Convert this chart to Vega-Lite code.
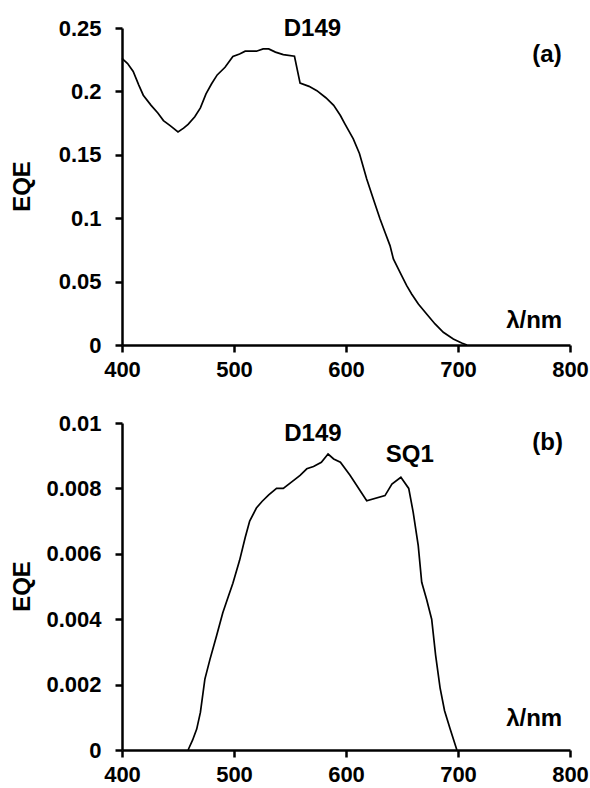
{
  "$schema": "https://vega.github.io/schema/vega-lite/v6.json",
  "padding": {"left": 10, "top": 17, "right": 5, "bottom": 0},
  "background": "white",
  "config": {
    "view": {"stroke": null},
    "font": "Liberation Sans",
    "concat": {"spacing": 32},
    "axis": {
      "domainColor": "black", "domainWidth": 2.5, "tickColor": "black", "tickWidth": 2.5, "tickSize": 7,
      "labelFont": "Liberation Sans", "labelFontWeight": "bold", "labelFontSize": 22, "labelColor": "black",
      "grid": false, "titleFont": "Liberation Sans", "titleFontWeight": "bold", "titleFontSize": 24, "titleColor": "black",
      "labelOverlap": false, "labelFlush": false
    },
    "axisX": {"labelPadding": 7},
    "axisY": {"labelPadding": 14}
  },
  "datasets": {
    "a": [
      {"w": 400, "e": 0.226}, {"w": 405, "e": 0.222}, {"w": 410, "e": 0.2157}, {"w": 415, "e": 0.205},
      {"w": 419, "e": 0.197}, {"w": 426, "e": 0.189}, {"w": 432, "e": 0.183}, {"w": 437, "e": 0.177},
      {"w": 443, "e": 0.173}, {"w": 450, "e": 0.168}, {"w": 455, "e": 0.171}, {"w": 459, "e": 0.174},
      {"w": 465, "e": 0.18}, {"w": 470, "e": 0.187}, {"w": 475, "e": 0.198}, {"w": 480, "e": 0.206},
      {"w": 485, "e": 0.213}, {"w": 492, "e": 0.219}, {"w": 499, "e": 0.2275}, {"w": 505, "e": 0.2295},
      {"w": 510, "e": 0.2317}, {"w": 520, "e": 0.2317}, {"w": 526, "e": 0.2335}, {"w": 531, "e": 0.2335},
      {"w": 537, "e": 0.231}, {"w": 544, "e": 0.229}, {"w": 554, "e": 0.2277}, {"w": 559, "e": 0.2065},
      {"w": 567, "e": 0.204}, {"w": 574, "e": 0.2006}, {"w": 582, "e": 0.195}, {"w": 589, "e": 0.189},
      {"w": 595, "e": 0.181}, {"w": 599, "e": 0.1744}, {"w": 606.5, "e": 0.1625}, {"w": 612, "e": 0.151},
      {"w": 618.5, "e": 0.131}, {"w": 624.4, "e": 0.1152}, {"w": 630.4, "e": 0.0994}, {"w": 634.8, "e": 0.0889},
      {"w": 639.3, "e": 0.0784}, {"w": 642.3, "e": 0.0679}, {"w": 646.7, "e": 0.06}, {"w": 649.7, "e": 0.0547},
      {"w": 654.2, "e": 0.0468}, {"w": 658.6, "e": 0.0402}, {"w": 664.6, "e": 0.0324}, {"w": 672, "e": 0.0245},
      {"w": 679.5, "e": 0.0166}, {"w": 686.9, "e": 0.01}, {"w": 695.8, "e": 0.0047}, {"w": 703.3, "e": 0.0016},
      {"w": 708, "e": 0.0}
    ],
    "b": [
      {"w": 459, "e": 0.0}, {"w": 463, "e": 0.0003}, {"w": 466.7, "e": 0.00064}, {"w": 470, "e": 0.00115},
      {"w": 474, "e": 0.00217}, {"w": 478.6, "e": 0.00278}, {"w": 484.5, "e": 0.0035}, {"w": 490, "e": 0.0042},
      {"w": 495, "e": 0.0047}, {"w": 499, "e": 0.0051}, {"w": 505, "e": 0.0058}, {"w": 510, "e": 0.0065},
      {"w": 514, "e": 0.007}, {"w": 520, "e": 0.0074}, {"w": 525, "e": 0.0076}, {"w": 531, "e": 0.0078},
      {"w": 538, "e": 0.008}, {"w": 544, "e": 0.008}, {"w": 553, "e": 0.00824}, {"w": 559, "e": 0.0084},
      {"w": 565, "e": 0.0086}, {"w": 571, "e": 0.00867}, {"w": 578, "e": 0.0088}, {"w": 584, "e": 0.00905},
      {"w": 589, "e": 0.0089}, {"w": 595, "e": 0.0088}, {"w": 603.6, "e": 0.0084}, {"w": 618.5, "e": 0.00762},
      {"w": 634.8, "e": 0.00778}, {"w": 641, "e": 0.00813}, {"w": 649, "e": 0.00834}, {"w": 656, "e": 0.008},
      {"w": 660, "e": 0.00727}, {"w": 664.5, "e": 0.00625}, {"w": 667.6, "e": 0.00513}, {"w": 672, "e": 0.0046},
      {"w": 676.5, "e": 0.004}, {"w": 680, "e": 0.0029}, {"w": 684, "e": 0.0019}, {"w": 688, "e": 0.0012},
      {"w": 693, "e": 0.00064}, {"w": 699, "e": 0.0}
    ],
    "la": [
      {"w": 570, "e": 0.249, "t": "D149"},
      {"w": 779.5, "e": 0.229, "t": "(a)"},
      {"w": 768, "e": 0.0189, "t": "λ/nm"}
    ],
    "lb": [
      {"w": 570.5, "e": 0.00966, "t": "D149"},
      {"w": 657, "e": 0.00902, "t": "SQ1"},
      {"w": 780, "e": 0.00939, "t": "(b)"},
      {"w": 768, "e": 0.00094, "t": "λ/nm"}
    ]
  },
  "vconcat": [
    {
      "width": 448,
      "height": 317,
      "layer": [
        {
          "data": {"name": "a"},
          "mark": {"type": "line", "color": "black", "strokeWidth": 1.7},
          "encoding": {
            "x": {"field": "w", "type": "quantitative", "scale": {"domain": [400, 800], "nice": false, "zero": false},
                  "axis": {"title": null, "values": [400, 500, 600, 700, 800]}},
            "y": {"field": "e", "type": "quantitative", "scale": {"domain": [0, 0.25], "nice": false},
                  "axis": {"title": "EQE", "values": [0, 0.05, 0.1, 0.15, 0.2, 0.25], "format": "~g",
                           "titleX": -100, "titleY": 158, "titleAngle": -90, "titleAlign": "center", "titleBaseline": "middle"}}
          }
        },
        {
          "data": {"name": "la"},
          "mark": {"type": "text", "font": "Liberation Sans", "fontWeight": "bold", "fontSize": 24, "color": "black", "align": "center", "baseline": "middle"},
          "encoding": {
            "x": {"field": "w", "type": "quantitative"},
            "y": {"field": "e", "type": "quantitative"},
            "text": {"field": "t", "type": "nominal"}
          }
        }
      ]
    },
    {
      "width": 448,
      "height": 327,
      "layer": [
        {
          "data": {"name": "b"},
          "mark": {"type": "line", "color": "black", "strokeWidth": 1.7},
          "encoding": {
            "x": {"field": "w", "type": "quantitative", "scale": {"domain": [400, 800], "nice": false, "zero": false},
                  "axis": {"title": null, "values": [400, 500, 600, 700, 800]}},
            "y": {"field": "e", "type": "quantitative", "scale": {"domain": [0, 0.01], "nice": false},
                  "axis": {"title": "EQE", "values": [0, 0.002, 0.004, 0.006, 0.008, 0.01], "format": "~g",
                           "titleX": -100, "titleY": 163, "titleAngle": -90, "titleAlign": "center", "titleBaseline": "middle"}}
          }
        },
        {
          "data": {"name": "lb"},
          "mark": {"type": "text", "font": "Liberation Sans", "fontWeight": "bold", "fontSize": 24, "color": "black", "align": "center", "baseline": "middle"},
          "encoding": {
            "x": {"field": "w", "type": "quantitative"},
            "y": {"field": "e", "type": "quantitative"},
            "text": {"field": "t", "type": "nominal"}
          }
        }
      ]
    }
  ]
}
